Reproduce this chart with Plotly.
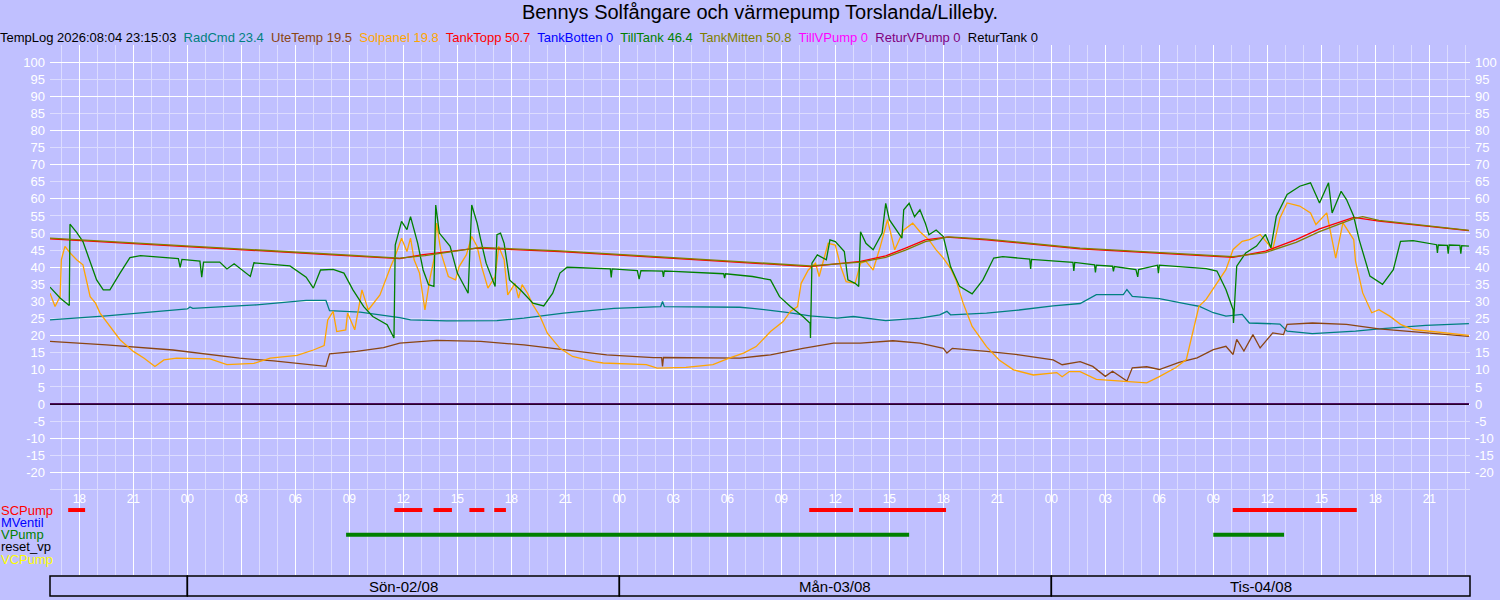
import pandas as pd
import plotly.graph_objects as go

# hours counted from Sunday 2026-08-02 00:00
base = pd.Timestamp("2026-08-02 00:00")
h_start, h_end = -7.63, 71.26

logtime = "2026:08:04 23:15:03"
names = ["RadCmd", "UteTemp", "Solpanel", "TankTopp", "TankBotten", "TillTank",
         "TankMitten", "TillVPump", "ReturVPump", "ReturTank"]
current = [23.4, 19.5, 19.8, 50.7, 0, 46.4, 50.8, 0, 0, 0]
colors = ["#008080", "#8B4513", "#FFA500", "#FF0000", "#0000FF", "#008000",
          "#808000", "#FF00FF", "#800080", "#000000"]

radcmd_h = [-7.63, -4.5, 0.0, 0.15, 0.3, 3.85, 6.6, 7.7, 7.9, 9.6, 11.8, 12.4, 14.4, 17.2, 18.7,
            20.9, 23.7, 26.3, 26.4, 26.5, 30.7, 31.4, 33.3, 34.6, 36.1, 37.0, 38.8, 40.7, 41.8,
            42.2, 42.4, 44.4, 46.2, 48.1, 49.6, 50.5, 52.0, 52.2, 52.5, 54.0, 55.7, 56.2, 57.0,
            57.7, 58.6, 59.0, 60.7, 61.1, 62.5, 64.9, 66.2, 68.8, 71.2]
radcmd = [24.6, 25.8, 27.8, 28.4, 28.0, 29.0, 30.3, 30.3, 27.3, 26.9, 25.3, 24.6, 24.3, 24.4, 25.1,
          26.6, 28.0, 28.5, 30.0, 28.5, 28.3, 28.0, 26.8, 25.8, 25.1, 25.6, 24.4, 25.1, 26.1,
          27.1, 26.1, 26.6, 27.5, 28.7, 29.4, 32.0, 32.0, 33.5, 31.5, 30.8, 29.1, 28.6, 26.7,
          25.7, 26.2, 23.7, 23.4, 21.3, 20.6, 21.3, 22.0, 23.0, 23.5]

utetemp_h = [-7.63, -4.5, -0.8, 1.1, 2.9, 4.8, 6.6, 7.7, 7.9, 9.4, 10.9, 11.8, 13.85, 16.3, 18.7,
             20.9, 23.3, 25.9, 26.35, 26.4, 26.45, 30.7, 32.4, 34.2, 35.9, 37.4, 39.2, 40.7, 42.0,
             42.2, 42.5, 44.4, 46.2, 48.1, 48.6, 49.6, 50.3, 51.0, 51.4, 52.2, 52.5, 53.3, 54.0,
             55.1, 56.1, 57.0, 57.7, 58.1, 58.3, 58.7, 59.2, 59.6, 60.3, 60.9, 61.1, 62.5, 64.4,
             66.2, 68.1, 71.2]
utetemp = [18.3, 17.3, 15.8, 14.6, 13.4, 12.6, 11.5, 11.0, 14.7, 15.4, 16.5, 17.8, 18.6, 18.3, 17.3,
           16.0, 14.4, 13.6, 13.6, 11.0, 13.6, 13.4, 14.4, 16.3, 17.8, 17.8, 18.5, 17.8, 16.3,
           14.9, 16.3, 15.4, 14.4, 12.9, 11.5, 12.4, 11.0, 8.1, 9.6, 6.7, 10.6, 10.9, 10.1,
           12.2, 13.5, 15.9, 16.9, 14.5, 18.9, 15.5, 20.3, 16.4, 20.8, 20.3, 23.3, 23.7, 23.3,
           22.0, 21.1, 19.8]

solpanel_h = [-7.63, -7.35, -7.07, -7.0, -6.8, -6.5, -6.15, -5.8, -5.4, -5.1, -4.85, -4.3, -3.74,
              -3.0, -2.4, -1.8, -1.3, -0.6, 1.26, 2.2, 3.7, 4.6, 6.1, 7.0, 7.6, 7.8, 8.1, 8.3, 8.8,
              8.9, 9.3, 9.7, 10.05, 10.7, 11.0, 11.3, 11.5, 11.9, 12.2, 12.4, 12.6, 12.9, 13.2,
              13.5, 13.7, 13.85, 14.1, 14.5, 14.9, 15.1, 15.5, 15.8, 16.1, 16.35, 16.7, 17.1,
              17.3, 17.6, 17.8, 18.2, 18.4, 18.6, 18.9, 19.2, 19.6, 20.0, 20.7, 21.4, 22.6, 23.1,
              25.5, 26.1, 27.7, 29.2, 30.1, 30.9, 31.6, 32.4, 33.1, 33.5, 33.9, 34.1, 34.5, 34.9,
              35.1, 35.6, 36.0, 36.3, 36.6, 37.1, 37.4, 37.7, 38.1, 38.5, 38.9, 39.3, 39.8, 40.3,
              40.7, 41.2, 41.6, 42.0, 42.4, 42.7, 43.1, 43.6, 44.4, 45.1, 45.9, 47.0, 48.3, 48.6,
              49.0, 49.6, 50.5, 52.0, 53.3, 54.0, 54.9, 55.5, 55.9, 56.2, 56.6, 57.2, 57.7, 58.1,
              58.6, 59.0, 59.6, 60.3, 60.7, 61.1, 61.8, 62.4, 62.7, 63.3, 63.8, 64.2, 64.8, 64.9,
              65.3, 65.8, 66.2, 66.8, 67.4, 68.1, 69.9, 71.2]
solpanel = [32.4, 28.5, 31.4, 42.2, 46.1, 44.1, 42.2, 40.7, 31.4, 29.5, 26.6, 22.7, 18.8,
            15.4, 13.4, 11.0, 12.9, 13.4, 13.2, 11.5, 11.9, 13.4, 14.2, 15.8, 17.1, 24.6, 27.1, 21.2, 21.7,
            26.6, 21.7, 33.4, 27.5, 31.9, 36.3, 40.2, 42.6, 48.5, 44.6, 48.5, 42.2, 38.3, 27.5,
            37.3, 42.2, 52.9, 44.1, 37.3, 36.3, 40.2, 43.6, 49.0, 46.1, 40.2, 33.9, 37.3,
            46.1, 42.2, 31.9, 35.3, 31.0, 34.9, 32.4, 29.0, 25.6, 20.7, 16.3, 13.9, 12.4, 12.0,
            11.5, 10.5, 10.7, 11.5, 13.4, 14.9, 16.8, 21.2, 24.1, 27.1, 28.5, 35.3, 39.2, 41.2,
            37.3, 47.0, 46.5, 40.2, 35.8, 35.3, 41.2, 41.7, 39.2, 46.1, 53.9, 45.1, 50.9, 52.9,
            50.4, 48.0, 45.1, 42.7, 39.7, 36.3, 29.5, 22.7, 16.8, 12.9, 10.0, 8.5, 9.2, 8.0,
            9.5, 9.5, 7.2, 6.7, 6.2, 8.0, 10.6, 13.0, 21.8, 28.6, 30.6, 35.4, 39.3, 45.2,
            47.6, 48.1, 49.6, 45.2, 54.4, 58.8, 57.9, 55.9, 52.5, 55.9, 42.7, 53.0, 48.1, 41.8,
            32.5, 26.7, 27.6, 25.7, 23.3, 21.8, 20.8, 20.1]

tanktopp_h = [-7.63, 11.8, 13.0, 16.1, 20.7, 30.7, 34.6, 37.4, 38.8, 39.9, 41.0, 42.2, 44.4,
              49.6, 58.1, 59.9, 61.6, 62.9, 64.8, 66.2, 71.2]
tanktopp = [48.3, 42.5, 43.6, 45.6, 44.6, 41.5, 40.2, 41.7, 43.3, 45.6, 48.0, 48.8, 48.0,
            45.4, 42.9, 44.7, 48.1, 51.2, 54.6, 53.5, 50.7]

tankmitten_h = [-7.63, 11.8, 13.2, 16.3, 20.7, 30.7, 34.6, 37.4, 38.8, 39.9, 41.0, 42.3, 44.4,
                49.6, 58.1, 59.9, 61.6, 62.9, 64.8, 65.3, 66.2, 71.2]
tankmitten = [48.5, 42.7, 43.4, 45.8, 44.8, 41.7, 40.4, 41.5, 42.9, 45.0, 47.5, 48.9, 48.2,
              45.6, 43.1, 44.3, 47.3, 50.4, 54.2, 54.8, 53.7, 50.8]

tilltank_h = [-7.63, -7.07, -6.56, -6.52, -6.15, -5.8, -5.5, -5.04, -4.67, -4.3, -3.74, -3.19, -2.6,
              -0.5, -0.4, -0.3, 0.7, 0.8, 0.9, 1.8, 2.2, 2.6, 3.5, 3.7, 5.7, 6.6, 7.0, 7.4, 8.1,
              8.7, 9.2, 9.8, 10.3, 11.1, 11.48, 11.55, 11.9, 12.2, 12.4, 12.6, 12.8, 13.1, 13.4,
              13.7, 13.8, 14.0, 14.6, 15.0, 15.6, 15.8, 16.1, 16.3, 16.6, 17.1, 17.2, 17.4, 17.6,
              17.9, 18.5, 19.2, 19.8, 20.3, 20.7, 21.1, 23.5, 23.55, 23.6, 25.0, 25.1, 25.2,
              26.4, 26.45, 26.5, 27.0, 29.8, 29.85, 29.9, 31.4,
              32.4, 32.9, 33.5, 34.2, 34.6, 34.62, 34.7, 35.0, 35.5, 35.7, 36.0, 36.5, 36.7, 37.1,
              37.3, 37.4, 37.7, 38.1, 38.6, 38.8, 39.0, 39.7, 39.8, 40.1, 40.4, 40.7, 41.0, 41.2,
              41.6, 42.0, 42.4, 42.9, 43.6, 44.2, 44.8, 45.3, 46.8, 46.85, 46.9, 49.2, 49.25, 49.3,
              50.4, 50.45, 50.5, 51.4, 51.45, 51.5, 52.7, 52.8, 52.85, 53.9, 53.95, 54.0, 56.6,
              57.2, 57.7, 58.1, 58.12, 58.3, 58.8, 59.4, 59.9, 60.2, 60.5, 61.1, 61.8, 62.4, 62.9,
              63.4, 63.6, 64.1, 64.4, 64.8, 65.1, 65.7, 66.4, 67.0, 67.4, 68.1, 69.4, 69.45, 69.5,
              70.0, 70.05, 70.1, 70.7, 70.75, 70.8, 71.2]
tilltank = [34.2, 31.0, 28.8, 52.6, 50.2, 47.5, 43.1, 36.3, 33.4, 33.4, 38.3, 42.8, 43.4,
            42.5, 40.0, 42.3, 41.8, 37.1, 41.5, 41.5, 39.5, 41.0, 37.3, 41.3, 40.4, 37.1, 33.9, 39.2, 39.4,
            38.3, 33.4, 28.5, 25.6, 23.2, 19.3, 46.5, 53.4, 51.0, 54.8, 51.0, 47.0, 39.2, 34.9,
            34.4, 58.2, 50.0, 46.1, 38.3, 32.4, 58.2, 52.9, 48.0, 41.2, 34.4, 49.5, 50.0, 47.0,
            36.3, 33.4, 29.5, 28.7, 32.4, 38.3, 40.0, 39.5, 37.0, 39.5, 39.0, 36.5, 39.0,
            38.9, 37.2, 38.9, 38.8, 38.1, 36.8, 38.1, 37.3,
            36.3, 31.4, 28.5, 25.6, 23.6, 19.3, 41.2, 43.6, 42.2, 48.0, 47.5, 44.6, 36.3, 35.3,
            34.4, 50.4, 47.0, 45.1, 50.0, 58.7, 53.9, 48.5, 56.8, 58.7, 54.8, 56.8, 52.9, 49.5,
            50.9, 49.0, 40.2, 34.4, 32.2, 36.3, 42.7, 43.1, 42.4, 39.5, 42.3, 41.4, 38.9, 41.4,
            40.7, 38.5, 40.6, 40.3, 38.8, 40.2, 39.3, 37.2, 39.3, 40.6, 38.3, 40.6, 39.6,
            38.9, 33.5, 27.6, 23.7, 40.3, 44.2, 46.2, 49.6, 45.7, 54.9, 61.3, 63.7, 64.7, 58.8,
            64.7, 55.9, 62.2, 59.8, 54.9, 48.1, 37.4, 35.0, 39.3, 47.6, 47.8, 46.6, 44.2, 46.5,
            46.4, 44.0, 46.5, 46.4, 44.0, 46.3, 46.2]

# series that read 0 over the whole period
zero_h = [h_start, 71.2]
zero_vals = [0, 0]

# pump states: on / off times (hours)
pumps = ["SCPump", "MVentil", "VPump", "reset_vp", "VCPump"]
pump_colors = ["#FF0000", "#0000FF", "#008000", "#000000", "#FFFF00"]
pump_on = [[-6.62, 11.5, 13.68, 15.67, 17.05, 34.55, 37.32, 58.08], [], [8.82, 57.0], [], []]
pump_off = [[-5.68, 13.05, 14.7, 16.5, 17.7, 36.98, 42.15, 64.97], [], [40.1, 60.93], [], []]

day_edges = [h_start, 0, 24, 48, h_end]
day_labels = ["", "Sön-02/08", "Mån-03/08", "Tis-04/08"]

bg = "#C0C0FF"
light = "#DCDCFF"
font = "Liberation Sans, Arial, sans-serif"


def t(hours):
    return [None if h is None else base + pd.Timedelta(hours=h) for h in hours]


def px(h):
    # hour -> paper x
    return (h - h_start) / (h_end - h_start)


fig = go.Figure()

series = {
    "RadCmd": (radcmd_h, radcmd),
    "UteTemp": (utetemp_h, utetemp),
    "Solpanel": (solpanel_h, solpanel),
    "TankTopp": (tanktopp_h, tanktopp),
    "TankBotten": (zero_h, zero_vals),
    "TillTank": (tilltank_h, tilltank),
    "TankMitten": (tankmitten_h, tankmitten),
    "TillVPump": (zero_h, zero_vals),
    "ReturVPump": (zero_h, zero_vals),
    "ReturTank": (zero_h, zero_vals),
}
for name, color in zip(names, colors):
    hs, vals = series[name]
    fig.add_trace(go.Scatter(x=t(hs), y=vals, name=name, mode="lines",
                             line=dict(color=color, width=1.3)))

# pump lanes below the temperature area
for i, (name, color) in enumerate(zip(pumps, pump_colors)):
    lane = -31 - 3.6 * i
    xs = []
    for a, b in zip(pump_on[i], pump_off[i]):
        xs += [a, b, None]
    if xs:
        fig.add_trace(go.Scatter(x=t(xs), y=[lane if v is not None else None for v in xs],
                                 mode="lines", line=dict(color=color, width=4), name=name))
    fig.add_annotation(x=-51 / 1420, xref="paper", y=lane, yref="y", text=name, showarrow=False,
                       xanchor="left", yanchor="middle", font=dict(color=color, size=13, family=font))

# dummy traces so the label axes get drawn
for ax in ["y2", "y3"]:
    fig.add_trace(go.Scatter(x=t([h_start]), y=[0], yaxis=ax, mode="lines", hoverinfo="skip"))

# day boxes
for i, lab in enumerate(day_labels):
    fig.add_shape(type="rect", xref="paper", yref="paper", x0=px(day_edges[i]), x1=px(day_edges[i + 1]),
                  y0=-1 / 530, y1=-21 / 530, line=dict(color="black", width=1.5))
    if lab:
        fig.add_annotation(x=(px(day_edges[i]) + px(day_edges[i + 1])) / 2, xref="paper", y=-11 / 530,
                           yref="paper", xanchor="center", yanchor="middle", text=lab, showarrow=False,
                           font=dict(size=15, color="black", family=font))

header = "TempLog " + logtime
for name, val, color in zip(names, current, colors):
    header += "&nbsp; <span style='color:%s'>%s %g</span>" % (color, name, val)
fig.add_annotation(x=-52 / 1420, xref="paper", y=(575 - 38) / 530, yref="paper", text=header,
                   showarrow=False, xanchor="left", yanchor="middle", font=dict(size=13, color="black", family=font))

ticks5 = list(range(-20, 101, 5))
ylab = dict(range=[-50, 105], overlaying="y", tickvals=ticks5, ticktext=[str(v) for v in ticks5],
            showgrid=False, zeroline=False, tickfont=dict(color="white", size=13, family=font),
            ticks="", ticklabelstandoff=4, anchor="x", automargin=False)

fig.update_layout(
    width=1500, height=600,
    paper_bgcolor=bg, plot_bgcolor=bg,
    showlegend=False,
    margin=dict(l=50, r=30, t=45, b=25, autoexpand=False),
    title=dict(text="Bennys Solfångare och värmepump Torslanda/Lilleby.", x=0.5, xref="paper",
               y=1 - 12 / 600, yanchor="middle", font=dict(size=20, color="black", family=font)),
    xaxis=dict(type="date", range=t([h_start, h_end]), tick0="2026-08-01 00:00", dtick=3 * 3600000,
               tickformat="%H", showgrid=True, gridcolor="white", gridwidth=1,
               minor=dict(dtick=3600000, showgrid=True, gridcolor=light, gridwidth=1),
               anchor="free", position=25 / 155, ticks="", showline=False, zeroline=False,
               automargin=False, tickfont=dict(color="white", size=12, family=font)),
    yaxis=dict(range=[-50, 105], tickvals=list(range(-20, 101, 10)), showticklabels=False,
               showgrid=True, gridcolor="white", gridwidth=1, zeroline=False, automargin=False,
               minor=dict(tickvals=list(range(-25, 106, 10)), showgrid=True, gridcolor=light, gridwidth=1)),
    yaxis2=dict(side="left", **ylab),
    yaxis3=dict(side="right", **ylab),
)

# page has no body margin, so the figure fills the window
fig.write_html("out.html", config={"displayModeBar": False},
               post_script="document.body.style.margin='0px';")
